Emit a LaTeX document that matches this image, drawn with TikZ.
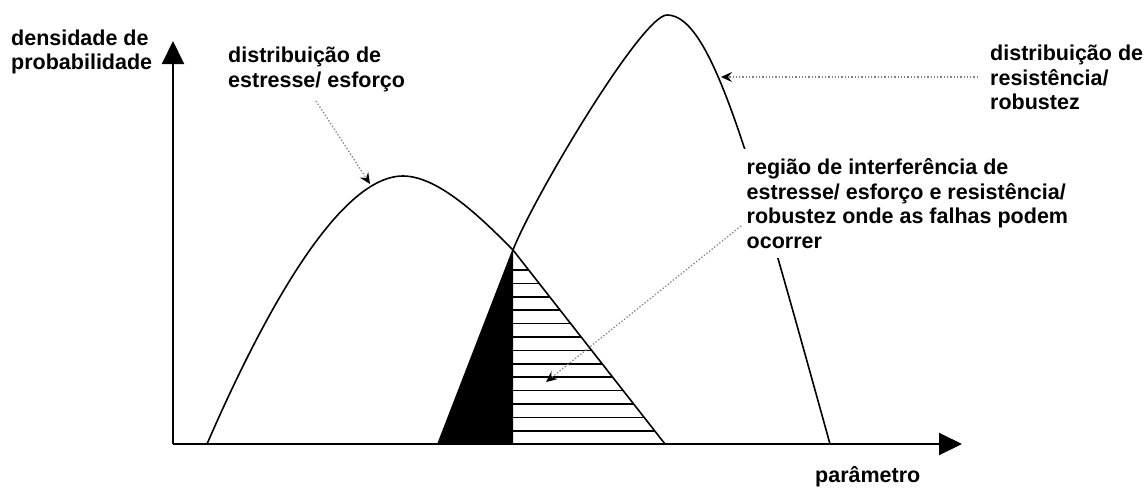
\documentclass[tikz,border=0pt]{standalone}
\usepackage{fontspec}
\setmainfont{Liberation Sans}
\usetikzlibrary{arrows.meta}
\begin{document}
\begin{tikzpicture}[x=1pt,y=-1pt,
  lbl/.style={font=\bfseries\fontsize{21.5}{24.5}\selectfont, align=left, anchor=north west, inner sep=0pt},
  curve/.style={line width=1.6pt, line join=round},
  axis/.style={line width=2pt, -{Triangle[length=23pt,width=22pt]}},
  pointer/.style={dotted, color=black!50, line width=1.3pt, -{Stealth[length=11pt,width=10pt,inset=4pt,black]}},
  hatch/.style={line width=1.5pt}]
\useasboundingbox (0,0) rectangle (1148,491);
\def\leftcurve{(207,444) .. controls (252,340.5) and (333,176) .. (403,176) .. controls (440,176) and (485,222) .. (513,250) -- (665,444)}
% shaded regions
\fill[black] (438,444) -- (513,250) -- (513,444) -- cycle;
\begin{scope}
  \clip \leftcurve -- cycle;
  \foreach \yy in {270,283.4,296.8,310.2,323.6,337,350.4,363.8,377.2,390.6,404,417.4,430.8}
    \draw[hatch] (513,\yy) -- (700,\yy);
\end{scope}
% curves
\draw[curve] \leftcurve;
\draw[curve] (438,444) -- (513,250) .. controls (533,198.2) and (642,15) .. (667,15) .. controls (712,15) and (750,156) .. (830,444);
% axes
\coordinate (o) at (173,444);
\coordinate (ytip) at (173,41);
\coordinate (xtip) at (962,444);
\draw[axis] (o) -- (ytip);
\draw[axis] (o) -- (xtip);
% labels
\node[lbl] (dens) at (11,29.5) {densidade de\\probabilidade};
\node[lbl] (stress) at (228,47) {distribuição de\\estresse/ esforço};
\node[lbl] (resist) at (990,45) {distribuição de\\resistência/\\robustez};
\node[lbl, fill=white, inner xsep=6pt, inner ysep=10pt] (region) at (740.5,148.5) {região de interferência de\\estresse/ esforço e resistência/\\robustez onde as falhas podem\\ocorrer};
\node[lbl] (param) at (815,466) {parâmetro};
% pointers
\coordinate (s1) at (316,101);
\coordinate (t1) at (370,184);
\coordinate (s2) at (978,77);
\coordinate (t2) at (721,77);
\coordinate (s3) at (741,226);
\coordinate (t3) at (546,382);
\draw[pointer] (s1) -- (t1);
\draw[pointer] (s2) -- (t2);
\draw[pointer] (s3) -- (t3);
\end{tikzpicture}
\end{document}
